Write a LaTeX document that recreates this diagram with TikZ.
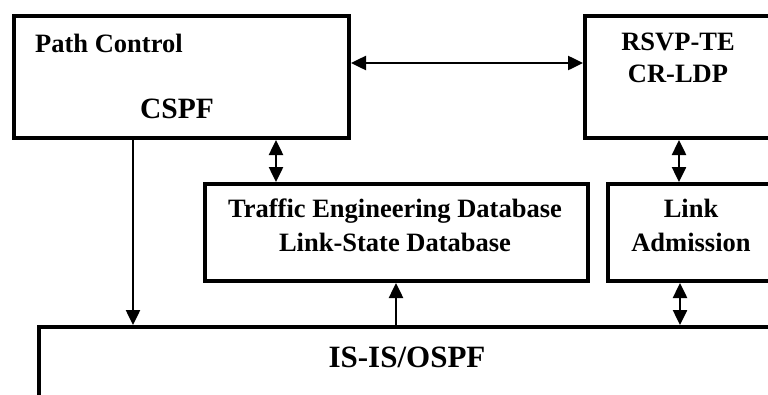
\documentclass[tikz,border=0pt]{standalone}
\usepackage{fontspec}
\setmainfont{Liberation Serif}
\usetikzlibrary{arrows.meta}
\begin{document}
\begin{tikzpicture}[x=1pt,y=-1pt,
  box/.style={draw=black, line width=4pt, rectangle, inner sep=0pt, anchor=north west},
  lbl/.style={inner sep=0pt, font=\bfseries\fontsize{26.5}{30}\selectfont},
  conn/.style={line width=2.5pt, -{Triangle[length=15pt,width=14pt]}},
  dconn/.style={line width=2.5pt, {Triangle[length=15pt,width=14pt]}-{Triangle[length=15pt,width=14pt]}}]
\clip (0,0) rectangle (768,394);
\fill[white] (0,0) rectangle (768,394);
% boxes
\node[box, minimum width=335pt, minimum height=122pt] (pc) at (12,14) {};
\node[box, minimum width=230pt, minimum height=122pt] (rsvp) at (583,14) {};
\node[box, minimum width=383pt, minimum height=97pt] (te) at (203,182) {};
\node[box, minimum width=200pt, minimum height=97pt] (link) at (606,182) {};
\node[box, minimum width=780pt, minimum height=120pt] (isis) at (37,325) {};
% texts
\node[lbl, anchor=base west, font=\bfseries\fontsize{26.5}{30}\selectfont] (tpc) at (35,52) {Path Control};
\node[lbl, anchor=base, font=\bfseries\fontsize{29.5}{34}\selectfont] (tcspf) at (177,118) {CSPF};
\node[lbl, anchor=base] (trsvp) at (678,50) {RSVP-TE};
\node[lbl, anchor=base] (tcrldp) at (678,82) {CR-LDP};
\node[lbl, anchor=base] (tted) at (395,217) {Traffic Engineering Database};
\node[lbl, anchor=base] (tlsd) at (395,251) {Link-State Database};
\node[lbl, anchor=base] (tlink) at (691,217) {Link};
\node[lbl, anchor=base] (tadm) at (691,251) {Admission};
\node[lbl, anchor=base, font=\bfseries\fontsize{31}{36}\selectfont] (tisis) at (407,367) {IS-IS/OSPF};
% connector guides
\coordinate (hy) at (0,63);
\coordinate (xa) at (133,0);
\coordinate (xb) at (276,0);
\coordinate (xc) at (396,0);
\coordinate (xd) at (679,0);
\coordinate (xe) at (680,0);
% connectors
\draw[dconn] (pc.east |- hy) -- (rsvp.west |- hy);
\draw[conn] (pc.south -| xa) -- (isis.north -| xa);
\draw[dconn] (pc.south -| xb) -- (te.north -| xb);
\draw[conn] (isis.north -| xc) -- (te.south -| xc);
\draw[dconn] (rsvp.south -| xd) -- (link.north -| xd);
\draw[dconn] (link.south -| xe) -- (isis.north -| xe);
\end{tikzpicture}
\end{document}
